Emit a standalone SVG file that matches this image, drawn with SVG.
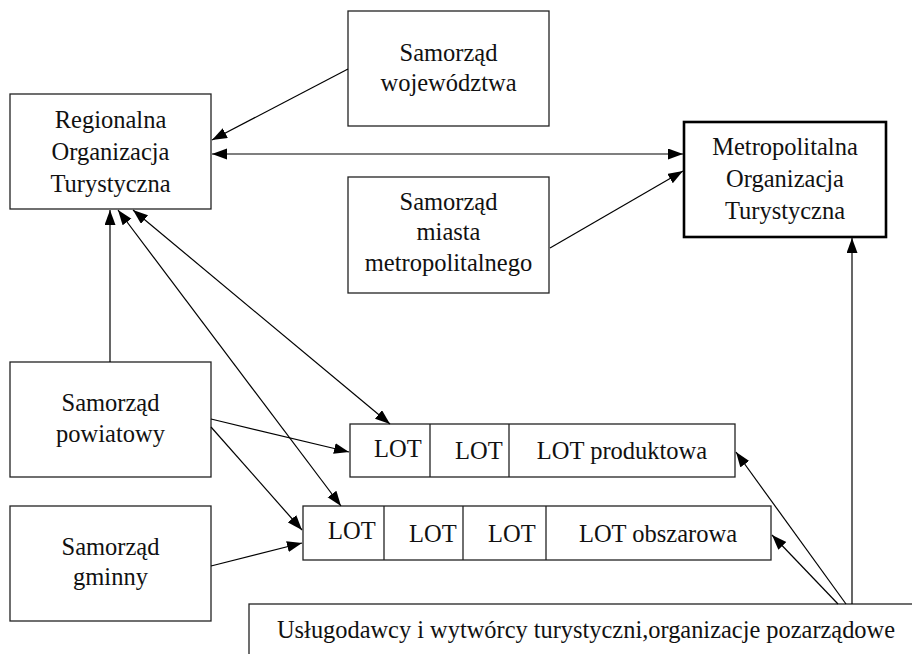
<svg xmlns="http://www.w3.org/2000/svg" width="912" height="654" viewBox="0 0 912 654">
<defs>
<marker id="ah" markerUnits="userSpaceOnUse" markerWidth="16" markerHeight="12" refX="15" refY="5.5" orient="auto-start-reverse" viewBox="0 0 16 12">
<path d="M0,0 L15,5.5 L0,11 z" fill="#000"/>
</marker>
<style>
.box{fill:#fff;stroke:#222;stroke-width:1.3}
.thick{fill:#fff;stroke:#000;stroke-width:2.6}
text{font-family:'Liberation Serif','Times New Roman',serif;font-size:24.5px;fill:#111}
.t{text-anchor:middle}
.c{stroke:#000;stroke-width:1.2;fill:none}
.a{marker-end:url(#ah)}
.d{marker-start:url(#ah);marker-end:url(#ah)}
</style>
</defs>
<rect width="912" height="654" fill="#fff"/>

<g id="regionalna">
<rect class="box" x="10" y="94" width="201" height="115"/>
<text class="t" x="110.5" y="128">Regionalna</text>
<text class="t" x="110.5" y="160">Organizacja</text>
<text class="t" x="110.5" y="192">Turystyczna</text>
</g>

<g id="wojewodztwo">
<rect class="box" x="348" y="11" width="201" height="115"/>
<text class="t" x="448.5" y="61">Samorząd</text>
<text class="t" x="448.5" y="91">województwa</text>
</g>

<g id="miasto">
<rect class="box" x="348" y="177" width="201" height="116"/>
<text class="t" x="448.5" y="210">Samorząd</text>
<text class="t" x="448.5" y="240">miasta</text>
<text class="t" x="448.5" y="271">metropolitalnego</text>
</g>

<g id="metropolitalna">
<rect class="thick" x="684" y="122" width="202" height="115"/>
<text class="t" x="785" y="155">Metropolitalna</text>
<text class="t" x="785" y="187">Organizacja</text>
<text class="t" x="785" y="219">Turystyczna</text>
</g>

<g id="powiatowy">
<rect class="box" x="10" y="362" width="201" height="115"/>
<text class="t" x="110.5" y="411">Samorząd</text>
<text class="t" x="110.5" y="442">powiatowy</text>
</g>

<g id="gminny">
<rect class="box" x="10" y="506" width="201" height="115"/>
<text class="t" x="110.5" y="555">Samorząd</text>
<text class="t" x="110.5" y="585">gminny</text>
</g>

<g id="lot-produktowa">
<rect class="box" x="350" y="424" width="385" height="53"/>
<line class="box" x1="430" y1="424" x2="430" y2="477"/>
<line class="box" x1="509" y1="424" x2="509" y2="477"/>
<text x="374" y="457">LOT</text>
<text x="455" y="459">LOT</text>
<text class="t" x="622" y="459">LOT produktowa</text>
</g>

<g id="lot-obszarowa">
<rect class="box" x="303" y="506" width="468" height="54"/>
<line class="box" x1="384" y1="506" x2="384" y2="560"/>
<line class="box" x1="463" y1="506" x2="463" y2="560"/>
<line class="box" x1="546" y1="506" x2="546" y2="560"/>
<text x="328" y="539">LOT</text>
<text x="409" y="542">LOT</text>
<text x="488" y="542">LOT</text>
<text class="t" x="658" y="542">LOT obszarowa</text>
</g>

<g id="uslugodawcy">
<rect class="box" x="249" y="604" width="700" height="80"/>
<text x="277" y="638" textLength="618" lengthAdjust="spacingAndGlyphs">Usługodawcy i wytwórcy turystyczni,organizacje pozarządowe</text>
</g>

<g id="connectors">
<line class="c a" x1="348" y1="69" x2="212" y2="140"/>
<line class="c d" x1="212" y1="154" x2="683" y2="154"/>
<line class="c a" x1="550" y1="248" x2="683" y2="171"/>
<line class="c a" x1="110" y1="362" x2="110" y2="210"/>
<line class="c d" x1="118" y1="210" x2="341" y2="506"/>
<line class="c d" x1="133" y1="210" x2="390" y2="424"/>
<line class="c a" x1="211" y1="419" x2="349" y2="452"/>
<line class="c a" x1="211" y1="427" x2="302" y2="530"/>
<line class="c a" x1="211" y1="566" x2="302" y2="543"/>
<line class="c a" x1="838" y1="604" x2="772" y2="535"/>
<line class="c a" x1="846" y1="604" x2="736" y2="452"/>
<line class="c a" x1="852" y1="604" x2="852" y2="238"/>
</g>
</svg>
